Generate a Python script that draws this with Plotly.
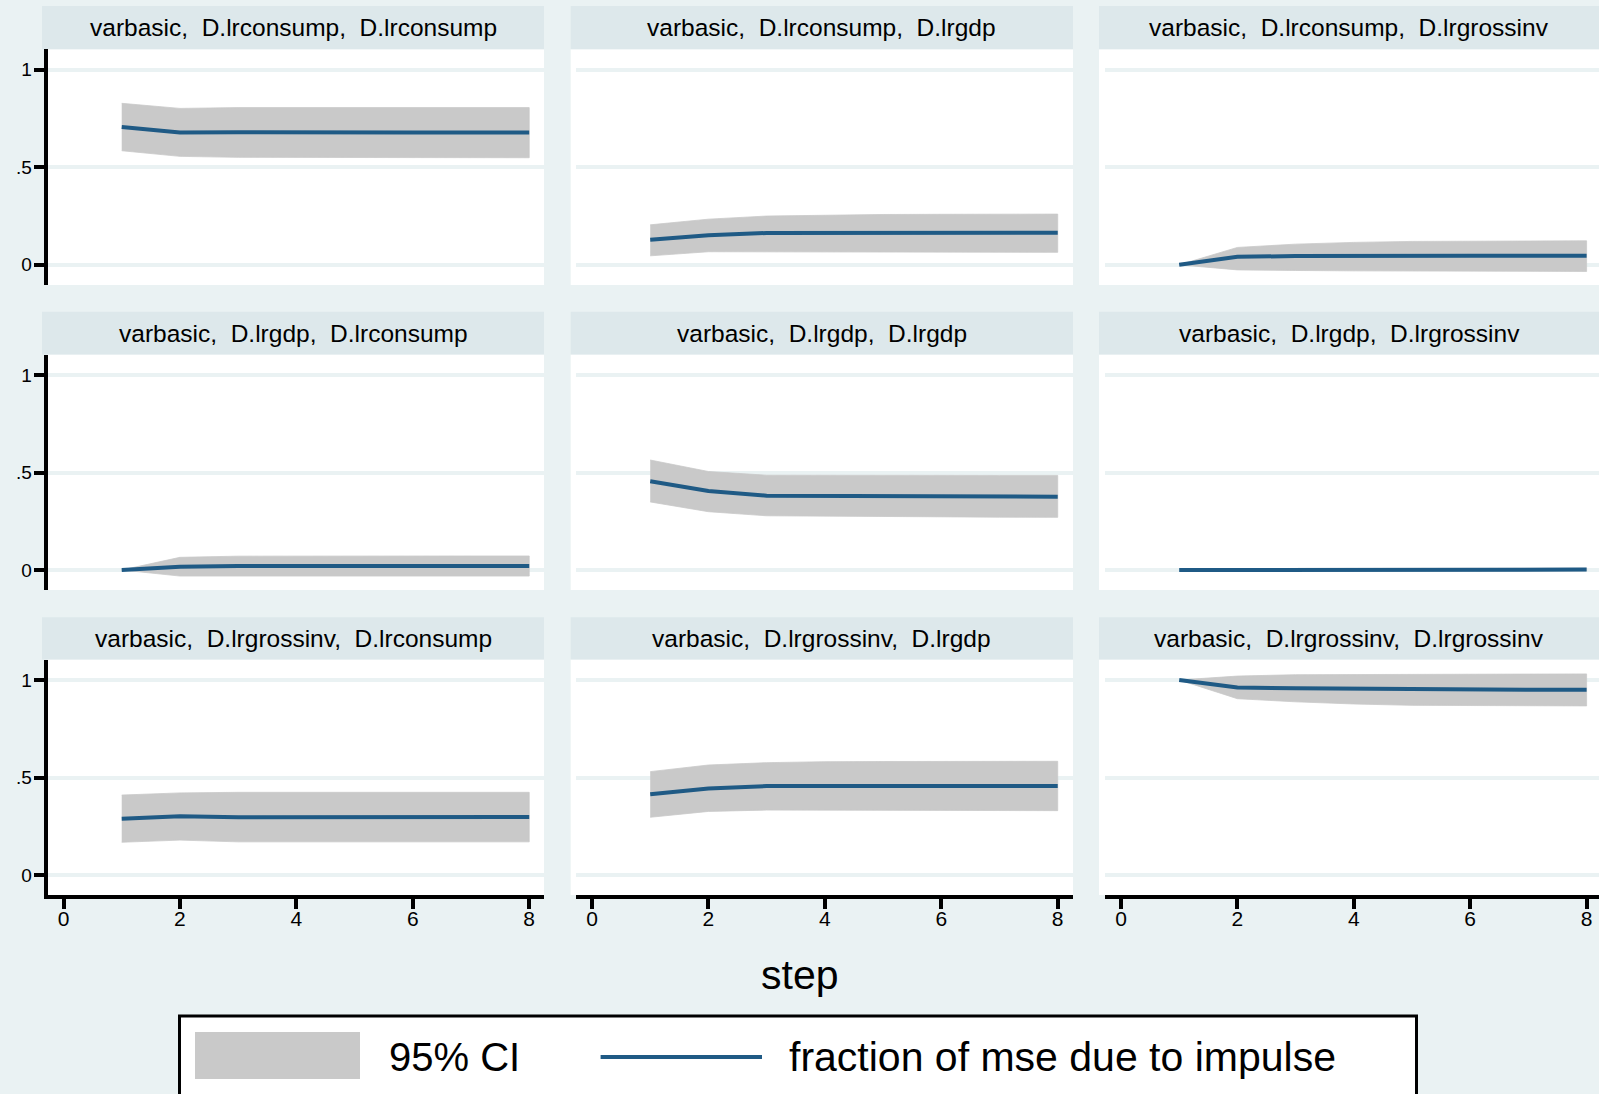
import plotly.graph_objects as go

# ---------------- data ----------------
steps = [1, 2, 3, 4, 5, 6, 7, 8]
x_tick_vals = [0, 2, 4, 6, 8]
y_tick_vals = [0, 0.5, 1]
y_tick_text = ["0", ".5", "1"]

panel_titles = [
    "varbasic,  D.lrconsump,  D.lrconsump",
    "varbasic,  D.lrconsump,  D.lrgdp",
    "varbasic,  D.lrconsump,  D.lrgrossinv",
    "varbasic,  D.lrgdp,  D.lrconsump",
    "varbasic,  D.lrgdp,  D.lrgdp",
    "varbasic,  D.lrgdp,  D.lrgrossinv",
    "varbasic,  D.lrgrossinv,  D.lrconsump",
    "varbasic,  D.lrgrossinv,  D.lrgdp",
    "varbasic,  D.lrgrossinv,  D.lrgrossinv",
]

cons_cons_fevd = [0.707, 0.678, 0.680, 0.678, 0.678, 0.678, 0.678, 0.678]
cons_cons_lo = [0.585, 0.556, 0.551, 0.550, 0.550, 0.549, 0.549, 0.549]
cons_cons_hi = [0.828, 0.802, 0.806, 0.806, 0.806, 0.806, 0.806, 0.806]

cons_gdp_fevd = [0.128, 0.152, 0.163, 0.164, 0.164, 0.164, 0.164, 0.164]
cons_gdp_lo = [0.046, 0.067, 0.069, 0.067, 0.066, 0.065, 0.065, 0.064]
cons_gdp_hi = [0.205, 0.234, 0.250, 0.255, 0.258, 0.259, 0.260, 0.260]

cons_inv_fevd = [0.000, 0.041, 0.045, 0.047, 0.047, 0.047, 0.047, 0.047]
cons_inv_lo = [0.000, -0.026, -0.029, -0.031, -0.033, -0.034, -0.034, -0.034]
cons_inv_hi = [0.000, 0.089, 0.106, 0.115, 0.120, 0.122, 0.123, 0.123]

gdp_cons_fevd = [0.000, 0.017, 0.020, 0.021, 0.021, 0.021, 0.021, 0.021]
gdp_cons_lo = [0.000, -0.031, -0.031, -0.031, -0.031, -0.031, -0.031, -0.031]
gdp_cons_hi = [0.000, 0.065, 0.071, 0.072, 0.072, 0.072, 0.072, 0.072]

gdp_gdp_fevd = [0.455, 0.405, 0.381, 0.380, 0.378, 0.377, 0.377, 0.376]
gdp_gdp_lo = [0.349, 0.299, 0.278, 0.275, 0.273, 0.272, 0.271, 0.270]
gdp_gdp_hi = [0.564, 0.505, 0.486, 0.485, 0.485, 0.485, 0.485, 0.485]

gdp_inv_fevd = [0.000, 0.001, 0.002, 0.002, 0.002, 0.002, 0.002, 0.002]
gdp_inv_lo = [0.000, -0.004, -0.005, -0.005, -0.005, -0.005, -0.005, -0.005]
gdp_inv_hi = [0.000, 0.006, 0.008, 0.009, 0.009, 0.009, 0.009, 0.009]

inv_cons_fevd = [0.289, 0.301, 0.296, 0.297, 0.297, 0.297, 0.297, 0.297]
inv_cons_lo = [0.168, 0.179, 0.170, 0.170, 0.170, 0.170, 0.170, 0.170]
inv_cons_hi = [0.410, 0.421, 0.424, 0.424, 0.424, 0.424, 0.424, 0.424]

inv_gdp_fevd = [0.414, 0.444, 0.456, 0.457, 0.457, 0.457, 0.457, 0.457]
inv_gdp_lo = [0.296, 0.326, 0.333, 0.333, 0.332, 0.331, 0.330, 0.330]
inv_gdp_hi = [0.530, 0.564, 0.576, 0.581, 0.582, 0.583, 0.583, 0.583]

inv_inv_fevd = [1.000, 0.961, 0.957, 0.954, 0.951, 0.950, 0.950, 0.950]
inv_inv_lo = [1.000, 0.904, 0.888, 0.877, 0.870, 0.868, 0.867, 0.867]
inv_inv_hi = [1.000, 1.020, 1.027, 1.028, 1.029, 1.030, 1.031, 1.031]

legend_labels = ["95% CI", "fraction of mse due to impulse"]
x_title = "step"

panels = [
    (cons_cons_fevd, cons_cons_lo, cons_cons_hi),
    (cons_gdp_fevd, cons_gdp_lo, cons_gdp_hi),
    (cons_inv_fevd, cons_inv_lo, cons_inv_hi),
    (gdp_cons_fevd, gdp_cons_lo, gdp_cons_hi),
    (gdp_gdp_fevd, gdp_gdp_lo, gdp_gdp_hi),
    (gdp_inv_fevd, gdp_inv_lo, gdp_inv_hi),
    (inv_cons_fevd, inv_cons_lo, inv_cons_hi),
    (inv_gdp_fevd, inv_gdp_lo, inv_gdp_hi),
    (inv_inv_fevd, inv_inv_lo, inv_inv_hi),
]

# ---------------- styling / layout geometry ----------------
W, H = 1599, 1094
FONT = "Liberation Sans"
BG = "#eaf2f3"
STRIP = "#dde8eb"
BAND = "#c9c9c9"
LINE = "#1f5a85"
GRID = "#eaf2f3"


def fx(p):
    return p / W


def fy(p):
    return 1 - p / H


# plot-area domains (pixels)
col_dom = [(47.5, 544.0), (576.0, 1072.5), (1105.0, 1599.0)]
col_xrange = [(-0.275, 8.254), (-0.275, 8.254), (-0.275, 8.213)]
col_white = [(47.5, 544.0), (570.7, 1073.0), (1099.0, 1599.0)]
col_strip = [(42.0, 544.0), (570.7, 1073.0), (1099.0, 1599.0)]
row_dom = [(49.3, 284.9), (354.5, 590.1), (659.5, 895.1)]
row_strip = [(6.0, 49.3), (311.7, 354.5), (617.3, 659.5)]
y_range = [-0.103, 1.105]

fig = go.Figure()
shapes = []
annotations = []
layout_axes = {}

for idx, (fevd, lo, hi) in enumerate(panels):
    r, c = divmod(idx, 3)
    k = idx + 1
    xa = "x" if k == 1 else f"x{k}"
    ya = "y" if k == 1 else f"y{k}"

    # CI band
    fig.add_trace(go.Scatter(
        x=steps + steps[::-1], y=hi + lo[::-1],
        xaxis=xa, yaxis=ya, mode="lines", fill="toself",
        fillcolor=BAND, line=dict(width=0.8, color=BAND),
        hoverinfo="skip", showlegend=False,
    ))
    # FEVD line
    fig.add_trace(go.Scatter(
        x=steps, y=fevd, xaxis=xa, yaxis=ya, mode="lines",
        line=dict(width=4, color=LINE), showlegend=False,
    ))

    x0, x1 = col_dom[c]
    ytop, ybot = row_dom[r]
    xkey = "xaxis" if k == 1 else f"xaxis{k}"
    ykey = "yaxis" if k == 1 else f"yaxis{k}"
    bottom_row = (r == 2)
    left_col = (c == 0)
    layout_axes[xkey] = dict(
        domain=[fx(x0), fx(x1)], range=list(col_xrange[c]), anchor=ya,
        showgrid=False, zeroline=False,
        showline=bottom_row, linecolor="black", linewidth=3.5,
        ticks="outside" if bottom_row else "", ticklen=10, tickwidth=3.5,
        tickcolor="black", tickvals=x_tick_vals,
        showticklabels=bottom_row, ticklabelstandoff=-8,
        tickfont=dict(family=FONT, size=21, color="black"),
        fixedrange=True,
    )
    layout_axes[ykey] = dict(
        domain=[fy(ybot), fy(ytop)], range=y_range, anchor=xa,
        showgrid=True, gridcolor=GRID, gridwidth=4, zeroline=False,
        showline=left_col, linecolor="black", linewidth=3.5,
        ticks="outside" if left_col else "", ticklen=10, tickwidth=3.5,
        tickcolor="black", tickvals=y_tick_vals, ticktext=y_tick_text,
        showticklabels=left_col, ticklabelstandoff=-2,
        tickfont=dict(family=FONT, size=19, color="black"),
        fixedrange=True,
    )

    # white plot region
    wx0, wx1 = col_white[c]
    shapes.append(dict(type="rect", xref="paper", yref="paper",
                       x0=fx(wx0), x1=fx(wx1), y0=fy(ybot), y1=fy(ytop),
                       fillcolor="white", line=dict(width=0), layer="below"))
    # strip
    sx0, sx1 = col_strip[c]
    st0, st1 = row_strip[r]
    shapes.append(dict(type="rect", xref="paper", yref="paper",
                       x0=fx(sx0), x1=fx(sx1), y0=fy(st1), y1=fy(st0),
                       fillcolor=STRIP, line=dict(width=0), layer="below"))
    annotations.append(dict(
        xref="paper", yref="paper", x=fx((sx0 + sx1) / 2), y=fy((st0 + st1) / 2),
        text=panel_titles[idx], showarrow=False, xanchor="center", yanchor="middle",
        font=dict(family=FONT, size=24.5, color="black"),
    ))

# x axis title
annotations.append(dict(
    xref="paper", yref="paper", x=fx(799.5), y=fy(975), text=x_title,
    showarrow=False, xanchor="center", yanchor="middle",
    font=dict(family=FONT, size=41, color="black"),
))

# legend box
shapes.append(dict(type="rect", xref="paper", yref="paper",
                   x0=fx(179.5), x1=fx(1416.5), y0=fy(1110), y1=fy(1016),
                   fillcolor="white", line=dict(width=3, color="black"), layer="above"))
shapes.append(dict(type="rect", xref="paper", yref="paper",
                   x0=fx(195), x1=fx(360), y0=fy(1079), y1=fy(1032),
                   fillcolor=BAND, line=dict(width=0), layer="above"))
shapes.append(dict(type="line", xref="paper", yref="paper",
                   x0=fx(600.6), x1=fx(762), y0=fy(1057), y1=fy(1057),
                   line=dict(width=4, color=LINE), layer="above"))
annotations.append(dict(
    xref="paper", yref="paper", x=fx(387), y=fy(1057), text=legend_labels[0],
    showarrow=False, xanchor="left", yanchor="middle",
    font=dict(family=FONT, size=40, color="black"),
))
annotations.append(dict(
    xref="paper", yref="paper", x=fx(787), y=fy(1057), text=legend_labels[1],
    showarrow=False, xanchor="left", yanchor="middle",
    font=dict(family=FONT, size=41, color="black"),
))

fig.update_layout(
    width=W, height=H, margin=dict(l=0, r=0, t=0, b=0),
    paper_bgcolor=BG, plot_bgcolor="rgba(0,0,0,0)",
    showlegend=False, shapes=shapes, annotations=annotations,
    font=dict(family=FONT, color="black"),
    **layout_axes,
)

fig.write_html("out.html", config={"displayModeBar": False})
